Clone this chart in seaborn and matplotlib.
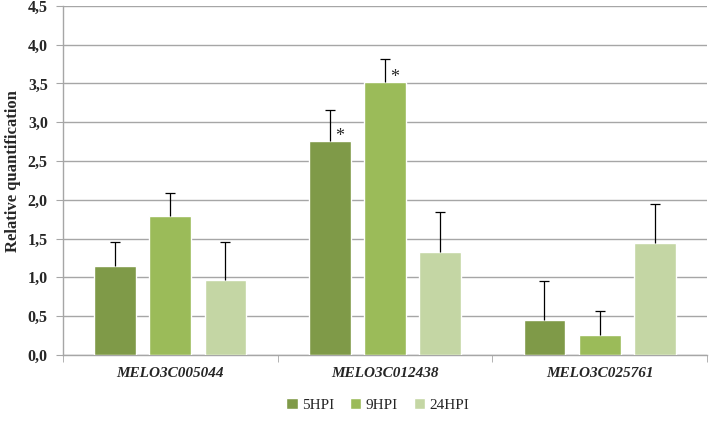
import numpy as np
import pandas as pd
import matplotlib
matplotlib.use("Agg")
import matplotlib.pyplot as plt
import seaborn as sns
from matplotlib.ticker import FuncFormatter

# 数据
genes = ["MELO3C005044", "MELO3C012438", "MELO3C025761"]
times = ["5HPI", "9HPI", "24HPI"]
val_5hpi = [1.15, 2.76, 0.45]
val_9hpi = [1.79, 3.52, 0.26]
val_24hpi = [0.97, 1.33, 1.44]
err_5hpi = [0.30, 0.40, 0.50]
err_9hpi = [0.30, 0.29, 0.30]
err_24hpi = [0.49, 0.51, 0.50]
signif_5hpi = [False, True, False]
signif_9hpi = [False, True, False]
signif_24hpi = [False, False, False]

colors = ["#7f9a48", "#9bbb59", "#c4d6a4"]

rows = []
for t, vals, errs, sig in zip(times,
                              [val_5hpi, val_9hpi, val_24hpi],
                              [err_5hpi, err_9hpi, err_24hpi],
                              [signif_5hpi, signif_9hpi, signif_24hpi]):
    for g, v, e, s in zip(genes, vals, errs, sig):
        rows.append({"gene": g, "time": t, "value": v, "err": e, "sig": s})
df = pd.DataFrame(rows)

sns.set_style("white")
plt.rcParams['font.family'] = ['Liberation Serif', 'DejaVu Serif']

fig = plt.figure(figsize=(7.09, 4.21), dpi=100)
ax = fig.add_axes([0.089, 0.157, 0.908, 0.829])

sns.barplot(data=df, x="gene", y="value", hue="time", order=genes,
            hue_order=times, palette=colors, width=0.77, gap=0.24,
            errorbar=None, saturation=1, ax=ax, zorder=3)

# 误差线 (只画上侧) 和星号
for container, t in zip(ax.containers, times):
    sub = df[df["time"] == t].set_index("gene").loc[genes]
    for bar, (_, r) in zip(container.patches, sub.iterrows()):
        xc = bar.get_x() + bar.get_width() / 2
        _, caps, _ = ax.errorbar(xc, r["value"], yerr=[[0], [r["err"]]], fmt="none",
                                 ecolor="black", elinewidth=0.9, capsize=3.5,
                                 capthick=0.9, zorder=4)
        caps[0].set_visible(False)  # 去掉下侧的帽
        if r["sig"]:
            ax.text(xc + 0.045, r["value"] - 0.05, "*", fontsize=13,
                    ha="center", va="bottom", zorder=5)

ax.set_ylim(0, 4.5)
ax.set_xlim(-0.5, 2.5)
ax.set_yticks(np.arange(0, 4.51, 0.5))
ax.yaxis.set_major_formatter(FuncFormatter(lambda v, p: f"{v:.1f}".replace(".", ",")))
ax.yaxis.grid(True, color="#a6a6a6", linewidth=1.0, zorder=0)
ax.set_axisbelow(True)

for side in ["top", "right"]:
    ax.spines[side].set_visible(False)
ax.spines["left"].set_color("#a6a6a6")
ax.spines["bottom"].set_color("#a6a6a6")
ax.spines["left"].set_linewidth(1.0)
ax.spines["bottom"].set_linewidth(1.0)

ax.tick_params(axis="y", left=True, length=5, color="#a6a6a6", labelsize=11.5, pad=6)
for lab in ax.get_yticklabels():
    lab.set_fontweight("bold")

# x 轴：刻度在类别之间
ax.set_xticks([0, 1, 2])
ax.set_xticklabels(genes, fontsize=11, fontweight="bold", fontstyle="italic")
ax.tick_params(axis="x", bottom=False, pad=5)
ax.set_xticks([-0.5, 0.5, 1.5, 2.5], minor=True)
ax.tick_params(axis="x", which="minor", bottom=True, length=5, color="#a6a6a6")

ax.set_xlabel("")
ax.set_ylabel("Relative quantification", fontsize=12, fontweight="bold")
ax.yaxis.set_label_coords(-0.065, 0.526)

handles, labels = ax.get_legend_handles_labels()
ax.legend_.remove()
leg = fig.legend(handles, labels, loc="center", bbox_to_anchor=(0.533, 0.038),
                 ncol=3, frameon=False, fontsize=11, handlelength=0.75,
                 handleheight=0.75, handletextpad=0.3, columnspacing=1.0)

plt.savefig("out.png", dpi=100)
